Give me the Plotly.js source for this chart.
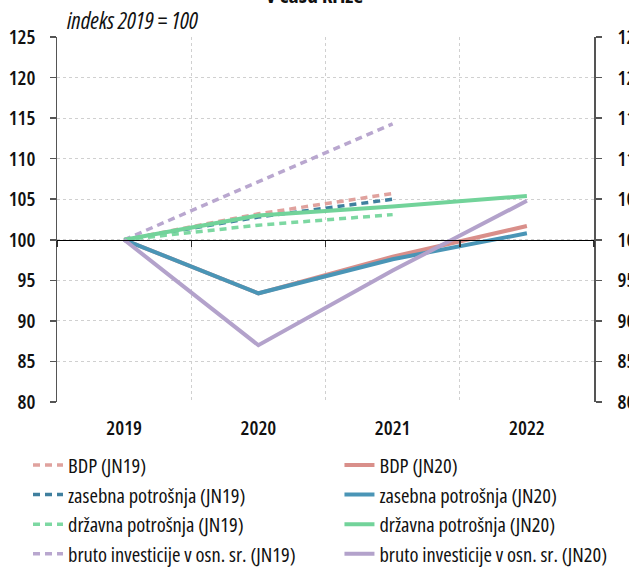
<!DOCTYPE html>
<html>
<head>
<meta charset="utf-8">
<script src="https://cdn.plot.ly/plotly-3.0.1.min.js"></script>
<style>
html,body{margin:0;padding:0;background:#fff;}
#chart{width:629px;height:569px;}
text, tspan{font-stretch:75% !important;}
</style>
</head>
<body>
<div id="chart"></div>
<script>
const years = ["2019", "2020", "2021", "2022"];
const yearsJN19 = ["2019", "2020", "2021"];

const bdpJN19 = [100, 103.2, 105.7];
const zasebnaJN19 = [100, 102.8, 105.0];
const drzavnaJN19 = [100, 101.8, 103.1];
const brutoJN19 = [100, 107.1, 114.3];

const bdpJN20 = [100, 93.4, 97.9, 101.7];
const zasebnaJN20 = [100, 93.4, 97.6, 100.8];
const drzavnaJN20 = [100, 103.0, 104.1, 105.4];
const brutoJN20 = [100, 87.0, 96.2, 104.8];

const names = ["BDP", "zasebna potrošnja", "državna potrošnja", "bruto investicije v osn. sr."];
const colorsJN19 = ["#e0a29e", "#3f7f9e", "#7dd8a2", "#b9a7cf"];
const colorsJN20 = ["#d98f8a", "#4a95b6", "#72d39a", "#b3a2cb"];

const seriesJN19 = [bdpJN19, zasebnaJN19, drzavnaJN19, brutoJN19];
const seriesJN20 = [bdpJN20, zasebnaJN20, drzavnaJN20, brutoJN20];

const FONT = "Open Sans, DejaVu Sans, sans-serif";

const traces = [];
for (let i = 0; i < 4; i++) {
  traces.push({
    type: "scatter", mode: "lines", x: yearsJN19, y: seriesJN19[i],
    name: names[i] + " (JN19)", xaxis: "x", yaxis: "y", legend: "legend",
    legendgroup: "a" + i,
    line: {color: colorsJN19[i], width: 3.5, dash: "7px,5px"}
  });
}
for (let i = 0; i < 4; i++) {
  traces.push({
    type: "scatter", mode: "lines", x: years, y: seriesJN20[i],
    name: names[i] + " (JN20)", xaxis: "x2", yaxis: "y2", legend: "legend2",
    legendgroup: "b" + i,
    line: {color: colorsJN20[i], width: 4}
  });
}

const legendFont = {family: FONT, size: 20.5, color: "#111", weight: 500};
const yr = [80, 125];
const layout = {
  width: 629, height: 569,
  margin: {l: 57, r: 35, t: 37, b: 167, autoexpand: false},
  paper_bgcolor: "#fff", plot_bgcolor: "#fff",
  font: {family: FONT, size: 19, color: "#111", weight: 600},
  showlegend: true,
  legend: {
    orientation: "v", x: -0.054, xanchor: "left", y: -0.118, yanchor: "top",
    font: legendFont, tracegroupgap: 0, traceorder: "grouped", itemwidth: 30,
    bgcolor: "rgba(0,0,0,0)"
  },
  legend2: {
    orientation: "v", x: 0.526, xanchor: "left", y: -0.118, yanchor: "top",
    font: legendFont, tracegroupgap: 0, traceorder: "grouped", itemwidth: 30,
    bgcolor: "rgba(0,0,0,0)"
  },
  xaxis: {
    type: "category", categoryorder: "array", categoryarray: years,
    range: [-0.5, 3.5], tickson: "boundaries", ticks: "", showline: false,
    showgrid: true, gridcolor: "#d0d0d0", griddash: "dot", gridwidth: 1,
    zeroline: false, ticklabelstandoff: 12,
    tickfont: {family: FONT, size: 20, color: "#111", weight: 600}
  },
  xaxis2: {
    type: "category", categoryorder: "array", categoryarray: years,
    range: [-0.5, 3.5], overlaying: "x", anchor: "free", position: (100 - 80) / 45,
    showline: true, linecolor: "#000", linewidth: 1.5,
    ticks: "outside", ticklen: 6, tickcolor: "#333", tickwidth: 1.5, tickson: "boundaries",
    showticklabels: false, showgrid: false, zeroline: false
  },
  yaxis: {
    range: yr, dtick: 5, tick0: 80, showline: true, linecolor: "#555", linewidth: 1.5,
    ticks: "outside", ticklen: 6, tickcolor: "#555", tickwidth: 1.5,
    showgrid: true, gridcolor: "#d0d0d0", griddash: "dot", gridwidth: 1,
    zeroline: false, ticklabelstandoff: 10,
    tickfont: {family: FONT, size: 20, color: "#111", weight: 600}
  },
  yaxis2: {
    range: yr, dtick: 5, tick0: 80, overlaying: "y", side: "right", anchor: "free", position: 1,
    showline: true, linecolor: "#555", linewidth: 1.5,
    ticks: "outside", ticklen: 6, tickcolor: "#555", tickwidth: 1.5,
    showgrid: false, zeroline: false, ticklabelstandoff: 12,
    tickfont: {family: FONT, size: 20, color: "#111", weight: 600}
  },
  annotations: [
    {text: "v času krize", xref: "paper", yref: "paper", x: 0.48, y: 1.071,
     xanchor: "center", yanchor: "bottom", showarrow: false,
     font: {family: FONT, size: 22, color: "#111", weight: 700}},
    {text: "<i>indeks 2019 = 100</i>", xref: "paper", yref: "paper", x: 0.014, y: 1.046,
     xanchor: "left", yanchor: "middle", showarrow: false,
     font: {family: FONT, size: 23, color: "#111", weight: 500}}
  ]
};

Plotly.newPlot("chart", traces, layout, {displayModeBar: false, staticPlot: true});
</script>
</body>
</html>
